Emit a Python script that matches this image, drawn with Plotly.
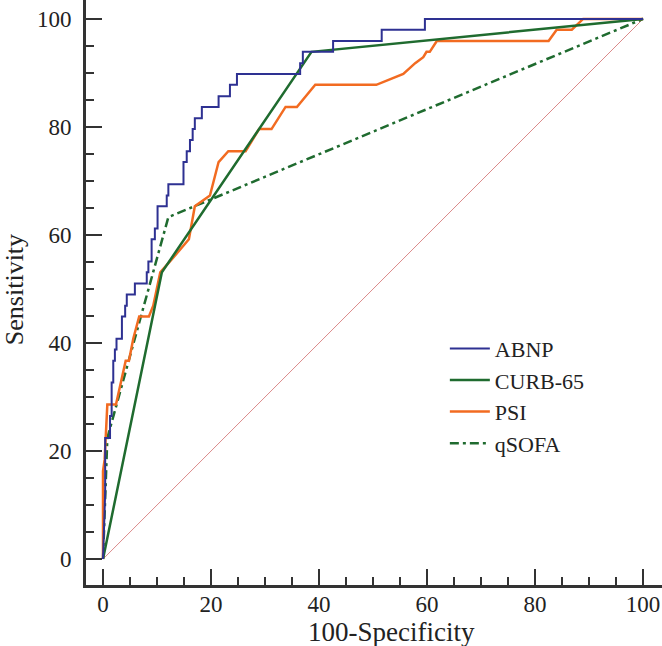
import plotly.graph_objects as go

# ABNP (staircase ROC)
abnp_x = [0, 0.4, 0.4, 1.3, 1.3, 1.6, 1.6, 1.9, 1.9, 2.2, 2.2, 2.5, 2.5, 3.5, 3.5, 4.1, 4.1,
          4.4, 4.4, 5.9, 5.9, 8.1, 8.1, 8.4, 8.4, 9.0, 9.0, 9.6, 9.6, 10.1, 10.1, 11.8, 11.8,
          12.1, 12.1, 14.9, 14.9, 15.5, 15.5, 16.1, 16.1, 16.6, 16.6, 17.0, 17.0, 18.3, 18.3,
          21.4, 21.4, 23.5, 23.5, 24.8, 24.8, 36.5, 36.5, 37.0, 37.0, 42.6, 42.6, 51.6, 51.6,
          59.6, 59.6, 100]
abnp_y = [0, 12.2, 22.4, 22.4, 26.5, 26.5, 32.7, 32.7, 36.7, 36.7, 38.8, 38.8, 40.8, 40.8, 44.9,
          44.9, 46.9, 46.9, 49.0, 49.0, 51.0, 51.0, 53.1, 53.1, 55.1, 55.1, 59.2, 59.2, 61.2,
          61.2, 65.3, 65.3, 67.3, 67.3, 69.4, 69.4, 73.5, 73.5, 75.5, 75.5, 77.6, 77.6, 79.6,
          79.6, 81.6, 81.6, 83.7, 83.7, 85.7, 85.7, 87.8, 87.8, 89.8, 89.8, 91.8, 91.8, 93.9,
          93.9, 95.9, 95.9, 98.0, 98.0, 100, 100]

# CURB-65
curb_x = [0, 10.9, 38.6, 100]
curb_y = [0, 53.1, 93.9, 100]

# PSI
psi_x = [0, 0, 0.3, 0.5, 0.8, 2.4, 3.3, 4.2, 4.8, 5.6, 6.7, 8.5, 9.3, 10.6, 12.4, 15.9, 17.0,
         19.8, 21.4, 23.2, 26.4, 28.9, 31.2, 33.8, 35.9, 39.3, 50.6, 53.1, 55.6, 57.8, 59.3,
         59.9, 60.5, 61.8, 82.5, 84.0, 86.8, 88.9, 100]
psi_y = [0, 16.3, 18.4, 22.4, 28.6, 28.6, 32.7, 36.7, 36.7, 40.8, 44.9, 44.9, 46.9, 53.1, 55.1,
         59.2, 65.3, 67.3, 73.5, 75.5, 75.5, 79.6, 79.6, 83.7, 83.7, 87.8, 87.8, 88.8, 89.8,
         91.8, 92.9, 93.9, 93.9, 95.9, 95.9, 98.0, 98.0, 100, 100]

# qSOFA
qsofa_x = [0, 0.8, 12.1, 100]
qsofa_y = [0, 22.4, 63.3, 100]

# reference diagonal
diag_x = [0, 100]
diag_y = [0, 100]

tick_vals = [0, 20, 40, 60, 80, 100]
tick_text = ["0", "20", "40", "60", "80", "100"]

x_title = "100-Specificity"
y_title = "Sensitivity"

SERIF = "Liberation Serif"
BLUE = "#2E3192"
GREEN = "#1F6B2F"
ORANGE = "#F26B21"
TXT = "#222222"

fig = go.Figure()
fig.add_trace(go.Scatter(x=diag_x, y=diag_y, mode="lines", showlegend=False,
                         line=dict(color="#DB8A8A", width=1), hoverinfo="skip"))
fig.add_trace(go.Scatter(x=qsofa_x, y=qsofa_y, mode="lines", name="qSOFA", legendrank=4,
                         line=dict(color=GREEN, width=2.5, dash="9px,4px,3px,4px")))
fig.add_trace(go.Scatter(x=psi_x, y=psi_y, mode="lines", name="PSI", legendrank=3,
                         line=dict(color=ORANGE, width=2.5)))
fig.add_trace(go.Scatter(x=curb_x, y=curb_y, mode="lines", name="CURB-65", legendrank=2,
                         line=dict(color=GREEN, width=2.5)))
fig.add_trace(go.Scatter(x=abnp_x, y=abnp_y, mode="lines", name="ABNP", legendrank=1,
                         line=dict(color=BLUE, width=2)))

axis_common = dict(
    showgrid=False, zeroline=False, showline=True, linecolor="#333333", linewidth=3,
    ticks="inside", ticklen=16, tickwidth=2, tickcolor="#333333", automargin=False,
    tickvals=tick_vals, ticktext=tick_text, ticklabeloverflow="allow",
    tickfont=dict(family=SERIF, size=23, color=TXT),
    minor=dict(tickmode="linear", tick0=0, dtick=5, ticks="inside", ticklen=8,
               tickwidth=1.5, tickcolor="#333333", showgrid=False),
)

fig.update_layout(
    width=662, height=646,
    margin=dict(l=86, r=0, t=0, b=61, autoexpand=False),
    paper_bgcolor="white", plot_bgcolor="white",
    font=dict(family=SERIF, size=22, color=TXT),
    xaxis=dict(range=[-3.15, 103.5], ticklabelstandoff=-4, **axis_common),
    yaxis=dict(range=[-4.8, 103.5], ticklabelstandoff=7, **axis_common),
    legend=dict(x=0.623, y=0.440, xanchor="left", yanchor="top", bgcolor="rgba(0,0,0,0)",
                font=dict(family=SERIF, size=22, color=TXT), tracegroupgap=0,
                traceorder="normal", itemwidth=40),
    annotations=[
        dict(text=x_title, xref="paper", yref="paper", x=0.531, y=-0.0803,
             xanchor="center", yanchor="middle", showarrow=False,
             font=dict(family=SERIF, size=27, color=TXT)),
        dict(text=y_title, xref="paper", yref="paper", x=-0.1250, y=0.504,
             xanchor="center", yanchor="middle", showarrow=False, textangle=-90,
             font=dict(family=SERIF, size=26, color=TXT)),
    ],
)

fig.write_html("out.html", config={"displayModeBar": False},
               post_script="document.body.style.margin='0';")
